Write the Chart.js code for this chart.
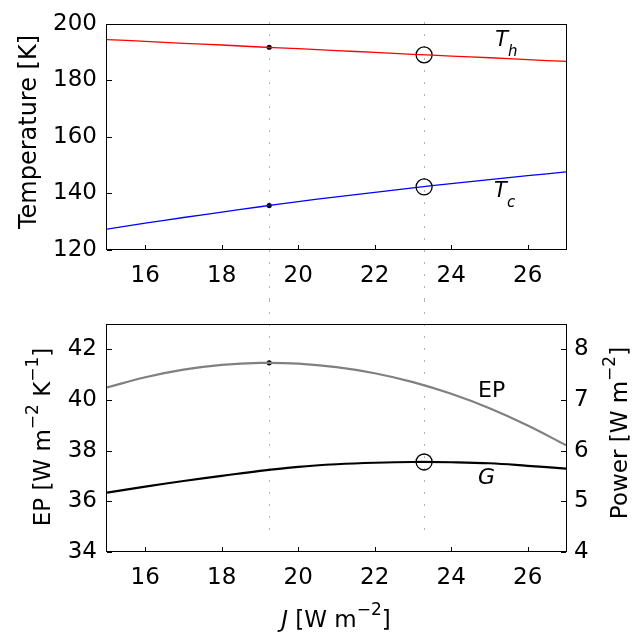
<!DOCTYPE html>
<html>
<head>
<meta charset="utf-8">
<script src="https://cdn.jsdelivr.net/npm/chart.js@4.4.0/dist/chart.umd.min.js"></script>
<style>
  html, body { margin: 0; padding: 0; background: #fff; }
  #wrap { position: relative; width: 634px; height: 634px; }
  #top { position: absolute; left: 0; top: 0; }
  #bot { position: absolute; left: 0; top: 300px; }
</style>
</head>
<body>
<div id="wrap">
  <canvas id="top" width="634" height="300"></canvas>
  <canvas id="bot" width="634" height="334"></canvas>
</div>
<script>
// Flujo J [W m-2]
const J = [15, 16, 17, 18, 19, 20, 21, 22, 23, 24, 25, 26, 27];
// Temperaturas caliente y fría [K]
const Th = [194.4, 193.8, 193.1, 192.5, 191.8, 191.2, 190.5, 189.9, 189.2, 188.6, 188.0, 187.3, 186.7];
const Tc = [127.4, 129.5, 131.5, 133.4, 135.3, 137.1, 138.8, 140.4, 142.0, 143.5, 144.9, 146.3, 147.6];
// Producción de entropía EP [W m-2 K-1] y potencia G [W m-2]
const EP = [40.49, 40.89, 41.19, 41.38, 41.46, 41.43, 41.29, 41.05, 40.70, 40.24, 39.67, 38.99, 38.21];
const G = [5.17, 5.29, 5.40, 5.50, 5.60, 5.68, 5.73, 5.76, 5.775, 5.77, 5.75, 5.70, 5.645];

// Máximo de EP (puntos) y máximo de G (círculos)
const jMaxEP = 19.24;
const jMaxG = 23.29;
const dotTh = 191.7, dotTc = 135.7, dotEP = 41.46;
const circTh = 189.0, circTc = 142.3, circG = 5.775;

// Ticks
const xTicks = [16, 18, 20, 22, 24, 26];
const tempTicks = [120, 140, 160, 180, 200];
const epTicks = [34, 36, 38, 40, 42];
const powerTicks = [4, 5, 6, 7, 8];

Chart.defaults.font.family = 'DejaVu Sans';
Chart.defaults.font.size = 23;
Chart.defaults.color = '#000';

const pts = (ys) => J.map((x, i) => ({ x: x, y: ys[i] }));
const setTicks = (list) => (scale) => { scale.ticks = list.map(v => ({ value: v })); };

// texto con superíndices / subíndices
function rich(ctx, parts, x, y, rot) {
    ctx.save();
    ctx.translate(x, y);
    ctx.rotate(rot);
    ctx.textBaseline = 'alphabetic';
    ctx.textAlign = 'left';
    ctx.fillStyle = '#000';
    let w = 0;
    parts.forEach(p => { ctx.font = p.f; p.w = ctx.measureText(p.t).width; w += p.w; });
    let cx = -w / 2;
    parts.forEach(p => { ctx.font = p.f; ctx.fillText(p.t, cx, -(p.r || 0)); cx += p.w; });
    ctx.restore();
}

function labelSub(ctx, x, y, main, sub) {
    ctx.save();
    ctx.fillStyle = '#000';
    ctx.textBaseline = 'alphabetic';
    ctx.textAlign = 'left';
    ctx.font = 'italic 21px DejaVu Sans';
    ctx.fillText(main, x, y);
    const w = ctx.measureText(main).width;
    if (sub) {
        ctx.font = 'italic 15px DejaVu Sans';
        ctx.fillText(sub, x + w, y + 10);
    }
    ctx.restore();
}

// marco + ticks hacia adentro
const framePlugin = {
    id: 'frame',
    afterDatasetsDraw(chart) {
        const ctx = chart.ctx, a = chart.chartArea;
        ctx.save();
        ctx.strokeStyle = '#000';
        ctx.lineWidth = 1;
        ctx.strokeRect(Math.round(a.left) - 0.5, Math.round(a.top) + 0.5,
            Math.round(a.right - a.left) + 1, Math.round(a.bottom - a.top) - 1);
        Object.values(chart.scales).forEach(s => {
            s.ticks.forEach(t => {
                const p = Math.round(s.getPixelForValue(t.value)) + 0.5;
                ctx.beginPath();
                if (s.axis === 'x') {
                    ctx.moveTo(p, a.bottom); ctx.lineTo(p, a.bottom - 5);
                } else if (s.position === 'left') {
                    ctx.moveTo(a.left, p); ctx.lineTo(a.left + 5, p);
                } else {
                    ctx.moveTo(a.right, p); ctx.lineTo(a.right - 5, p);
                }
                ctx.stroke();
            });
        });
        ctx.restore();
    }
};

// líneas verticales punteadas en los dos óptimos
function vlines(y0, y1) {
    return {
        id: 'vlines',
        beforeDatasetsDraw(chart) {
            const ctx = chart.ctx;
            ctx.save();
            ctx.strokeStyle = '#b4b4b4';
            ctx.lineWidth = 1;
            ctx.setLineDash([2, 10]);
            [jMaxEP, jMaxG].forEach(j => {
                const x = Math.round(chart.scales.x.getPixelForValue(j)) + 0.5;
                ctx.beginPath();
                ctx.moveTo(x, y0);
                ctx.lineTo(x, y1);
                ctx.stroke();
            });
            ctx.restore();
        }
    };
}

const noGrid = { display: false, drawTicks: false };

const xScale = (h) => ({
    type: 'linear', min: 15, max: 27,
    grid: noGrid, border: { display: false },
    afterBuildTicks: setTicks(xTicks),
    afterFit: (s) => { s.height = h; },
    ticks: { padding: 12, maxRotation: 0 }
});

// Panel superior: temperaturas
new Chart(document.getElementById('top'), {
    type: 'line',
    data: {
        datasets: [
            { data: pts(Th), borderColor: '#ff0000', borderWidth: 1.3, pointRadius: 0, tension: 0.4 },
            { data: pts(Tc), borderColor: '#0000ff', borderWidth: 1.3, pointRadius: 0, tension: 0.4 },
            { data: [{ x: jMaxEP, y: dotTh }, { x: jMaxEP, y: dotTc }], showLine: false,
              pointRadius: 2.6, pointBackgroundColor: '#000', pointBorderColor: '#000', pointBorderWidth: 0 },
            { data: [{ x: jMaxG, y: circTh }, { x: jMaxG, y: circTc }], showLine: false,
              pointRadius: 8, pointBackgroundColor: 'rgba(0,0,0,0)', pointBorderColor: '#000', pointBorderWidth: 1.3 }
        ]
    },
    options: {
        responsive: false,
        animation: false,
        layout: { padding: { top: 17, right: 68, left: 0, bottom: 0 } },
        plugins: { legend: { display: false }, tooltip: { enabled: false } },
        scales: {
            x: xScale(50),
            y: {
                min: 120, max: 200,
                grid: noGrid, border: { display: false },
                afterBuildTicks: setTicks(tempTicks),
                afterFit: (s) => { s.width = 107; },
                ticks: { padding: 10 }
            }
        }
    },
    plugins: [vlines(22, 300), framePlugin, {
        id: 'labelsTop',
        afterDraw(chart) {
            const ctx = chart.ctx, sx = chart.scales.x, sy = chart.scales.y;
            labelSub(ctx, sx.getPixelForValue(25.15), sy.getPixelForValue(192.1), 'T', 'h');
            labelSub(ctx, sx.getPixelForValue(25.12), sy.getPixelForValue(138.9), 'T', 'c');
            rich(ctx, [{ t: 'Temperature [K]', f: '24px DejaVu Sans' }], 36, 132, -Math.PI / 2);
        }
    }]
});

// Panel inferior: EP y potencia
new Chart(document.getElementById('bot'), {
    type: 'line',
    data: {
        datasets: [
            { data: pts(EP), yAxisID: 'yL', borderColor: '#808080', borderWidth: 2.2, pointRadius: 0, tension: 0.4 },
            { data: pts(G), yAxisID: 'yR', borderColor: '#000000', borderWidth: 2.2, pointRadius: 0, tension: 0.4 },
            { data: [{ x: jMaxEP, y: dotEP }], yAxisID: 'yL', showLine: false,
              pointRadius: 2.6, pointBackgroundColor: '#000', pointBorderColor: '#000', pointBorderWidth: 0 },
            { data: [{ x: jMaxG, y: circG }], yAxisID: 'yR', showLine: false,
              pointRadius: 8, pointBackgroundColor: 'rgba(0,0,0,0)', pointBorderColor: '#000', pointBorderWidth: 1.3 }
        ]
    },
    options: {
        responsive: false,
        animation: false,
        layout: { padding: { top: 19, right: 0, left: 0, bottom: 0 } },
        plugins: { legend: { display: false }, tooltip: { enabled: false } },
        scales: {
            x: xScale(82),
            yL: {
                position: 'left', min: 34, max: 43,
                grid: noGrid, border: { display: false },
                afterBuildTicks: setTicks(epTicks),
                afterFit: (s) => { s.width = 107; },
                ticks: { padding: 10 }
            },
            yR: {
                position: 'right', min: 4, max: 8.5,
                grid: noGrid, border: { display: false },
                afterBuildTicks: setTicks(powerTicks),
                afterFit: (s) => { s.width = 68; },
                ticks: { padding: 8 }
            }
        }
    },
    plugins: [vlines(0, 240), framePlugin, {
        id: 'labelsBot',
        afterDraw(chart) {
            const ctx = chart.ctx, sx = chart.scales.x;
            const m = '23px DejaVu Sans', sup = '17px DejaVu Sans';
            // etiquetas de curvas
            ctx.save();
            ctx.fillStyle = '#000';
            ctx.textAlign = 'left';
            ctx.textBaseline = 'alphabetic';
            ctx.font = '22px DejaVu Sans';
            ctx.fillText('EP', sx.getPixelForValue(24.7), chart.scales.yL.getPixelForValue(40.1));
            ctx.font = 'italic 22px DejaVu Sans';
            ctx.fillText('G', sx.getPixelForValue(24.7), chart.scales.yR.getPixelForValue(5.35));
            ctx.restore();
            // títulos de ejes
            rich(ctx, [{ t: 'EP [W m', f: m }, { t: '\u22122', f: sup, r: 12 }, { t: ' K', f: m },
                { t: '\u22121', f: sup, r: 12 }, { t: ']', f: m }], 50, 137, -Math.PI / 2);
            rich(ctx, [{ t: 'Power [W m', f: m }, { t: '\u22122', f: sup, r: 12 }, { t: ']', f: m }],
                627, 133, -Math.PI / 2);
            rich(ctx, [{ t: 'J', f: 'italic ' + m }, { t: ' [W m', f: m }, { t: '\u22122', f: sup, r: 12 },
                { t: ']', f: m }], 336, 327, 0);
        }
    }]
});
</script>
</body>
</html>
